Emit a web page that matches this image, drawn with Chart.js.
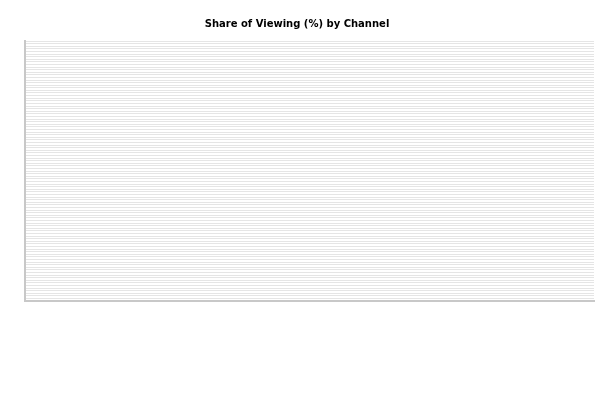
<!DOCTYPE html>
<html>
<head>
<meta charset="utf-8">
<script src="https://cdn.jsdelivr.net/npm/chart.js@4"></script>
<style>
  html, body { margin: 0; padding: 0; background: #fff; }
  #wrap { width: 600px; height: 400px; }
</style>
</head>
<body>
<div id="wrap"><canvas id="chart"></canvas></div>
<script>
// channel data - the reference shows no bars or tick labels, only the empty 0-100 % grid
const channels = [];
const shares = [];
const yMin = 0;
const yMax = 100;
const yStep = 1;

const ctx = document.getElementById('chart').getContext('2d');

new Chart(ctx, {
  type: 'bar',
  data: {
    labels: channels,
    datasets: [{
      label: 'Share of Viewing (%)',
      data: shares,
      backgroundColor: '#4e79a7',
    }],
  },
  options: {
    responsive: true,
    maintainAspectRatio: false,
    animation: false,
    layout: {
      padding: { left: 0, right: 6, top: 0, bottom: 91 },
    },
    plugins: {
      legend: { display: false },
      tooltip: { enabled: false },
      title: {
        display: true,
        text: 'Share of Viewing (%) by Channel',
        font: { family: 'DejaVu Sans', size: 10, weight: 'bold' },
        color: '#000',
        padding: { top: 18, bottom: 11 },
      },
    },
    scales: {
      x: {
        grid: { display: false },
        border: { display: true, color: '#c8c8c8', width: 2 },
        ticks: { display: false },
      },
      y: {
        min: yMin,
        max: yMax,
        ticks: { display: false, stepSize: yStep },
        grid: { color: 'rgba(0,0,0,0.1)', drawTicks: false },
        border: { display: true, color: '#c8c8c8', width: 2 },
        // empty label column on the left, as in the reference
        afterFit: (scale) => { scale.width = 25; },
      },
    },
  },
});
</script>
</body>
</html>
